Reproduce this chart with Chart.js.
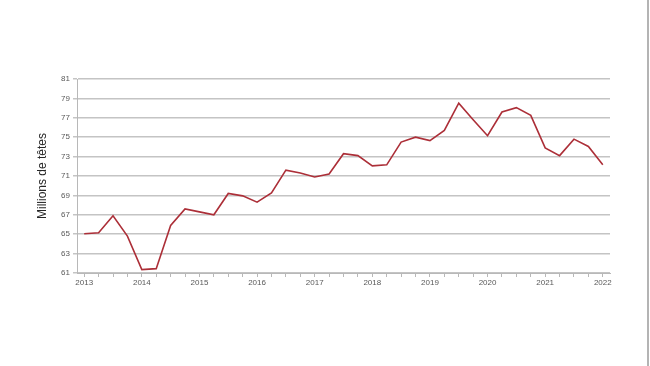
<!DOCTYPE html>
<html><head><meta charset="utf-8">
<script src="https://cdn.jsdelivr.net/npm/chart.js@4"></script>
<style>
html,body{margin:0;padding:0;background:#fff;}
#wrap{position:relative;width:650px;height:366px;}
#edge{position:absolute;left:647px;top:0;width:2px;height:366px;background:#b4b4b4;}
</style></head>
<body><div id="wrap"><canvas id="c" width="650" height="366"></canvas><div id="edge"></div></div>
<script>
const years = ['2013','2014','2015','2016','2017','2018','2019','2020','2021','2022'];
const quarters = ['T1','T2','T3','T4'];
const cheptel = [65.05,65.15,66.9,64.8, 61.35,61.45,65.9,67.6, 67.3,67.0,69.2,68.95,
  68.3,69.25,71.6,71.3, 70.9,71.2,73.3,73.1, 72.05,72.15,74.5,75.0,
  74.65,75.7,78.5,76.8, 75.15,77.6,78.05,77.25, 73.9,73.1,74.8,74.05, 72.15];
const yTicks = [61,63,65,67,69,71,73,75,77,79,81];

const labels = [];
years.forEach(y => quarters.forEach(q => { if (labels.length < cheptel.length) labels.push(y + ' ' + q); }));

new Chart(document.getElementById('c'), {
  type: 'line',
  data: { labels: labels, datasets: [{ data: cheptel, borderColor: '#ac2f38', borderWidth: 1.6, pointRadius: 0, tension: 0, fill: false }] },
  options: {
    responsive: false, animation: false,
    layout: { padding: { top: 79, right: 40, bottom: 0, left: 0 } },
    plugins: { legend: { display: false }, tooltip: { enabled: false } },
    scales: {
      x: {
        offset: true,
        grid: { display: true, drawOnChartArea: false, drawTicks: true, tickLength: 4, color: '#b8b8b8', offset: false },
        border: { display: true, color: '#b8b8b8', width: 1 },
        ticks: { autoSkip: false, maxRotation: 0, padding: 1, color: '#595959', font: { family: 'Liberation Sans, Arial', size: 8 },
          callback: (v, i) => i % 4 === 0 ? labels[i].slice(0,4) : '' },
        afterFit: s => { s.height = 93; }
      },
      y: {
        min: 61, max: 81,
        afterBuildTicks: s => { s.ticks = yTicks.map(v => ({ value: v })); },
        grid: { color: '#c4c4c4', lineWidth: 1.5, tickLength: 4, drawTicks: true },
        border: { display: true, color: '#b8b8b8', width: 1 },
        ticks: { color: '#595959', padding: 3, font: { family: 'Liberation Sans, Arial', size: 8 } },
        title: { display: true, text: 'Millions de têtes', color: '#262626', padding: { top: 35, bottom: 0 }, font: { family: 'Liberation Sans, Arial', size: 12 } },
        afterFit: s => { s.width = 77; }
      }
    }
  }
});
</script></body></html>
